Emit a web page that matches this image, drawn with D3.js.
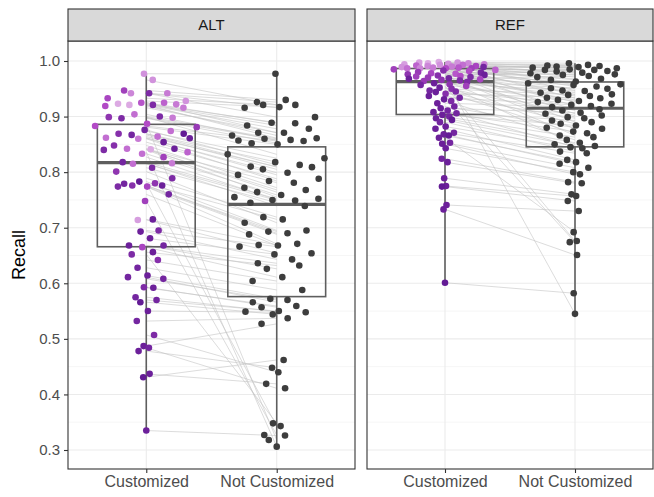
<!DOCTYPE html>
<html>
<head>
<meta charset="utf-8">
<script src="https://cdn.jsdelivr.net/npm/d3@7"></script>
<style>
  body { margin: 0; background: #ffffff; }
  svg text { font-family: "Liberation Sans", Arial, Helvetica, sans-serif; }
</style>
</head>
<body>
<svg id="chart" width="654" height="497"></svg>
<script>
// ---- data -----------------------------------------------------------------
const facets = ["ALT", "REF"];
const conditions = ["Customized", "Not Customized"];
const yTicks = [0.3, 0.4, 0.5, 0.6, 0.7, 0.8, 0.9, 1.0];
const yLabel = "Recall";

// ALT: one entry per participant (paired across conditions)
const altCustomized = [
  0.977, 0.966, 0.947, 0.942, 0.942, 0.942, 0.933, 0.928, 0.925, 0.925,
  0.923, 0.922, 0.921, 0.921, 0.919, 0.916, 0.904, 0.900, 0.899, 0.898,
  0.897, 0.883, 0.881, 0.876, 0.874, 0.869, 0.869, 0.867, 0.864, 0.862,
  0.861, 0.860, 0.854, 0.848, 0.842, 0.842, 0.841, 0.840, 0.833, 0.827,
  0.818, 0.816, 0.815, 0.808, 0.801, 0.789, 0.783, 0.779, 0.776, 0.776,
  0.774, 0.774, 0.760, 0.715, 0.714, 0.695, 0.693, 0.681, 0.668, 0.668,
  0.665, 0.656, 0.642, 0.628, 0.614, 0.611, 0.608, 0.593, 0.592, 0.575,
  0.570, 0.566, 0.550, 0.532, 0.487,
  0.887, 0.836, 0.780, 0.748, 0.652, 0.507, 0.484, 0.478, 0.437, 0.431, 0.335
];
const altNotCustomized = [
  0.977, 0.921, 0.930, 0.899, 0.926, 0.916, 0.921, 0.917, 0.888, 0.871,
  0.889, 0.884, 0.861, 0.878, 0.866, 0.871, 0.857, 0.860, 0.832, 0.858,
  0.852, 0.856, 0.850, 0.813, 0.825, 0.818, 0.809, 0.805, 0.810, 0.795,
  0.799, 0.784, 0.788, 0.772, 0.781, 0.764, 0.768, 0.755, 0.759, 0.750,
  0.752, 0.739, 0.749, 0.745, 0.709, 0.719, 0.695, 0.715, 0.690, 0.693,
  0.671, 0.688, 0.668, 0.669, 0.654, 0.666, 0.643, 0.652, 0.626, 0.636,
  0.611, 0.632, 0.604, 0.588, 0.572, 0.566, 0.570, 0.557, 0.559, 0.549,
  0.550, 0.544, 0.548, 0.537, 0.527,
  0.318, 0.306, 0.343, 0.327, 0.348, 0.440, 0.411, 0.448, 0.419, 0.462, 0.326
];
// share of customization used by each participant (0 = least, 1 = most)
const altShade = [
  0.20, 0.20, 0.60, 0.80, 0.25, 0.30, 0.55, 0.20, 0.40, 0.45,
  0.10, 0.30, 0.80, 0.10, 0.50, 0.30, 0.35, 0.80, 0.70, 0.30,
  0.80, 0.50, 0.65, 0.85, 0.35, 0.95, 0.75, 0.85, 0.35, 0.35,
  0.90, 0.30, 0.90, 0.75, 0.35, 0.90, 0.10, 0.80, 0.35, 0.60,
  0.85, 0.30, 0.35, 0.80, 0.70, 0.80, 0.95, 0.85, 0.75, 0.90,
  0.80, 0.55, 0.85, 0.90, 0.15, 0.80, 0.90, 0.90, 0.85, 0.90,
  0.55, 0.90, 0.75, 0.85, 0.90, 0.85, 0.85, 0.80, 0.90, 0.85,
  0.85, 0.95, 0.90, 0.85, 0.90,
  0.50, 0.40, 0.70, 0.60, 0.80, 0.80, 0.85, 0.90, 0.90, 0.95, 0.90
];

// REF: one entry per participant (paired across conditions)
const refCustomized = [
  0.998, 0.997, 0.997, 0.996, 0.996, 0.995, 0.994, 0.994, 0.993, 0.993,
  0.992, 0.991, 0.991, 0.990, 0.989, 0.989, 0.988, 0.988, 0.987, 0.987,
  0.987, 0.987, 0.985, 0.984, 0.983, 0.982, 0.980, 0.979, 0.978, 0.977,
  0.976, 0.975, 0.974, 0.973, 0.972, 0.971, 0.970, 0.968, 0.967, 0.966,
  0.965, 0.964, 0.962, 0.960, 0.958, 0.957, 0.952, 0.950, 0.947, 0.945,
  0.944, 0.941, 0.937, 0.934, 0.928, 0.924, 0.918, 0.915, 0.911, 0.908,
  0.906, 0.903, 0.900, 0.897, 0.894, 0.890, 0.882, 0.878, 0.871, 0.868,
  0.866, 0.853, 0.851, 0.843, 0.824, 0.818, 0.789, 0.775, 0.774,
  0.969, 0.601, 0.862, 0.733, 0.931, 0.741, 0.955
];
const refNotCustomized = [
  0.996, 0.984, 0.990, 0.960, 0.993, 0.978, 0.947, 0.992, 0.971, 0.987,
  0.933, 0.988, 0.954, 0.979, 0.991, 0.919, 0.966, 0.982, 0.940, 0.989,
  0.905, 0.975, 0.958, 0.985, 0.926, 0.968, 0.890, 0.981, 0.950, 0.913,
  0.976, 0.943, 0.963, 0.878, 0.984, 0.930, 0.957, 0.899, 0.973, 0.937,
  0.866, 0.951, 0.911, 0.946, 0.850, 0.928, 0.902, 0.939, 0.887, 0.923,
  0.870, 0.934, 0.897, 0.921, 0.858, 0.917, 0.880, 0.907, 0.845, 0.893,
  0.873, 0.884, 0.863, 0.853, 0.847, 0.837, 0.843, 0.822, 0.834, 0.815,
  0.818, 0.808, 0.796, 0.800, 0.782, 0.780, 0.760, 0.757, 0.748,
  0.545, 0.582, 0.692, 0.651, 0.674, 0.730, 0.676
];
const refShade = [
  0.10, 0.15, 0.20, 0.10, 0.25, 0.20, 0.30, 0.15, 0.35, 0.20,
  0.40, 0.25, 0.55, 0.30, 0.85, 0.20, 0.45, 0.30, 0.50, 0.25,
  0.60, 0.35, 0.60, 0.40, 0.75, 0.50, 0.65, 0.85, 0.55, 0.45,
  0.70, 0.90, 0.75, 0.50, 0.60, 0.80, 0.65, 0.90, 0.55, 0.70,
  0.80, 0.65, 0.80, 0.90, 0.70, 0.85, 0.90, 0.75, 0.85, 0.80,
  0.90, 0.75, 0.90, 0.85, 0.80, 0.90, 0.85, 0.90, 0.85, 0.90,
  0.85, 0.90, 0.85, 0.90, 0.95, 0.85, 0.90, 0.90, 0.85, 0.90,
  0.95, 0.85, 0.90, 0.90, 0.85, 0.90, 0.90, 0.90, 0.95,
  0.85, 0.95, 0.90, 0.90, 0.90, 0.90, 0.60
];

const facetData = {
  ALT: { customized: altCustomized, notCustomized: altNotCustomized, shade: altShade },
  REF: { customized: refCustomized, notCustomized: refNotCustomized, shade: refShade }
};

// ---- layout ---------------------------------------------------------------
const svg = d3.select("#chart");
const W = 654, H = 497;
const panelTop = 41, panelBottom = 469, stripTop = 9;
const panelX = { ALT: [68, 355], REF: [367, 653] };

const y = d3.scaleLinear().domain([0.3, 1.0]).range([450, 61]);

const shadeColor = d3.scaleLinear()
  .domain([0, 0.5, 1])
  .range(["#e6c2ea", "#b24ac6", "#5a168f"])
  .interpolate(d3.interpolateRgb);
const notColor = "#3d3d3d";

// van der Corput low-discrepancy sequence (base 2)
function vanDerCorput(n) {
  const out = [];
  for (let i = 1; i <= n; i++) {
    let q = 0, bk = 0.5, k = i;
    while (k > 0) { q += (k % 2) * bk; k = Math.floor(k / 2); bk /= 2; }
    out.push(q);
  }
  return out;
}
function bwNrd0(v) {
  const s = d3.deviation(v);
  const sorted = v.slice().sort(d3.ascending);
  const iqr = d3.quantileSorted(sorted, 0.75) - d3.quantileSorted(sorted, 0.25);
  let lo = Math.min(s, iqr / 1.34);
  if (!(lo > 0)) lo = s || 1;
  return 0.9 * lo * Math.pow(v.length, -0.2);
}
// quasirandom horizontal offsets, scaled by kernel density at each value
function quasiOffsets(values, halfWidth, adjust) {
  const n = values.length;
  const bw = bwNrd0(values) * adjust;
  const kde = t => d3.sum(values, v => Math.exp(-0.5 * ((t - v) / bw) ** 2));
  const [lo, hi] = d3.extent(values);
  const grid = d3.range(512).map(i => lo - 3 * bw + (hi - lo + 6 * bw) * i / 511);
  const maxD = d3.max(grid, kde);
  const order = d3.range(n).sort((a, b) => (values[a] - values[b]) || (a - b));
  const vdc = vanDerCorput(n);
  const off = new Array(n);
  order.forEach((idx, r) => {
    off[idx] = (vdc[r] - 0.5) * 2 * halfWidth * kde(values[idx]) / maxD;
  });
  return off;
}

function boxStats(values) {
  const s = values.slice().sort(d3.ascending);
  return {
    q1: d3.quantileSorted(s, 0.25),
    med: d3.quantileSorted(s, 0.5),
    q3: d3.quantileSorted(s, 0.75),
    min: s[0],
    max: s[s.length - 1]
  };
}

const minorTicks = d3.range(0.35, 1.0, 0.1);

facets.forEach((facet, fi) => {
  const [x0, x1] = panelX[facet];
  const d = facetData[facet];
  const x = d3.scalePoint().domain(conditions).range([x0, x1]).padding(0.6);
  const step = x.step();
  const g = svg.append("g");

  // panel background + grid
  g.append("rect").attr("x", x0).attr("y", panelTop)
    .attr("width", x1 - x0).attr("height", panelBottom - panelTop).attr("fill", "#ffffff");
  g.selectAll(".minor").data(minorTicks).join("line")
    .attr("x1", x0).attr("x2", x1)
    .attr("y1", v => y(v)).attr("y2", v => y(v))
    .attr("stroke", "#f0f0f0").attr("stroke-width", 0.6);
  g.selectAll(".major").data(yTicks).join("line")
    .attr("x1", x0).attr("x2", x1)
    .attr("y1", v => y(v)).attr("y2", v => y(v))
    .attr("stroke", "#ebebeb").attr("stroke-width", 1.1);
  g.selectAll(".vmajor").data(conditions).join("line")
    .attr("x1", c => x(c)).attr("x2", c => x(c))
    .attr("y1", panelTop).attr("y2", panelBottom)
    .attr("stroke", "#ebebeb").attr("stroke-width", 1.1);

  // paired lines
  const pairs = d.customized.map((v, i) => [v, d.notCustomized[i]]);
  g.selectAll(".pair").data(pairs).join("line")
    .attr("x1", x(conditions[0])).attr("x2", x(conditions[1]))
    .attr("y1", p => y(p[0])).attr("y2", p => y(p[1]))
    .attr("stroke", "#c4c4c4").attr("stroke-width", 0.7).attr("stroke-opacity", 0.85);

  // boxplots
  const groups = [d.customized, d.notCustomized];
  groups.forEach((vals, ci) => {
    const st = boxStats(vals);
    const cx = x(conditions[ci]);
    const bw = step * 0.75;
    const bg = g.append("g").attr("stroke", "#5e5e5e").attr("fill", "none");
    bg.append("line").attr("x1", cx).attr("x2", cx)
      .attr("y1", y(st.max)).attr("y2", y(st.q3)).attr("stroke-width", 1.6);
    bg.append("line").attr("x1", cx).attr("x2", cx)
      .attr("y1", y(st.q1)).attr("y2", y(st.min)).attr("stroke-width", 1.6);
    bg.append("rect").attr("x", cx - bw / 2).attr("width", bw)
      .attr("y", y(st.q3)).attr("height", y(st.q1) - y(st.q3)).attr("stroke-width", 1.6);
    bg.append("line").attr("x1", cx - bw / 2).attr("x2", cx + bw / 2)
      .attr("y1", y(st.med)).attr("y2", y(st.med)).attr("stroke-width", 3.2);
  });

  // points, spread with a quasirandom layout
  const half = step * 0.4;
  const offC = quasiOffsets(d.customized, half, 0.5);
  const offN = quasiOffsets(d.notCustomized, half, 0.5);
  g.selectAll(".ptN").data(d.notCustomized).join("circle")
    .attr("cx", (v, i) => x(conditions[1]) + offN[i])
    .attr("cy", v => y(v)).attr("r", 3.3).attr("fill", notColor);
  g.selectAll(".ptC").data(d.customized).join("circle")
    .attr("cx", (v, i) => x(conditions[0]) + offC[i])
    .attr("cy", v => y(v)).attr("r", 3.3)
    .attr("fill", (v, i) => shadeColor(d.shade[i]));

  // panel border
  g.append("rect").attr("x", x0).attr("y", panelTop)
    .attr("width", x1 - x0).attr("height", panelBottom - panelTop)
    .attr("fill", "none").attr("stroke", "#333333").attr("stroke-width", 1.1);

  // strip
  g.append("rect").attr("x", x0).attr("y", stripTop)
    .attr("width", x1 - x0).attr("height", panelTop - stripTop)
    .attr("fill", "#d9d9d9").attr("stroke", "#333333").attr("stroke-width", 1.1);
  g.append("text").attr("x", (x0 + x1) / 2).attr("y", (stripTop + panelTop) / 2)
    .attr("dy", "0.36em").attr("text-anchor", "middle")
    .attr("font-size", 15).attr("fill", "#1a1a1a").text(facet);

  // x axis
  const xAxis = d3.axisBottom(x).tickSize(4).tickPadding(3);
  const ax = g.append("g").attr("transform", `translate(0,${panelBottom})`).call(xAxis);
  ax.select(".domain").remove();
  ax.selectAll(".tick line").attr("stroke", "#333333").attr("stroke-width", 1.1);
  ax.selectAll(".tick text").attr("font-size", 16).attr("fill", "#4d4d4d")
    .attr("font-family", "Liberation Sans, Arial, sans-serif");

  // y axis (left panel only)
  if (fi === 0) {
    const yAxis = d3.axisLeft(y).tickValues(yTicks).tickFormat(d3.format(".1f"))
      .tickSize(4).tickPadding(4);
    const ay = g.append("g").attr("transform", `translate(${x0},0)`).call(yAxis);
    ay.select(".domain").remove();
    ay.selectAll(".tick line").attr("stroke", "#333333").attr("stroke-width", 1.1);
    ay.selectAll(".tick text").attr("font-size", 15).attr("fill", "#4d4d4d")
      .attr("font-family", "Liberation Sans, Arial, sans-serif");
  }
});

// y axis title
svg.append("text")
  .attr("transform", `translate(25,${(panelTop + panelBottom) / 2}) rotate(-90)`)
  .attr("text-anchor", "middle").attr("font-size", 18).attr("fill", "#000000")
  .text(yLabel);
</script>
</body>
</html>
